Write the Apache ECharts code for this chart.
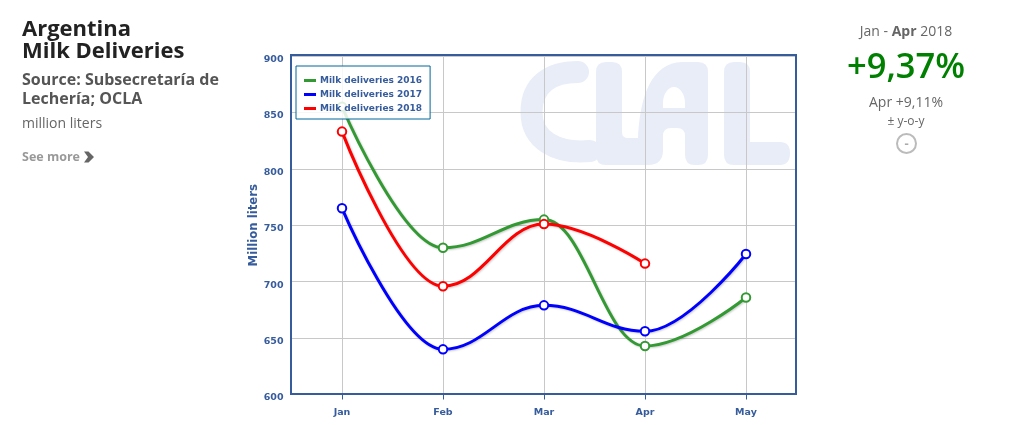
<!DOCTYPE html>
<html>
<head>
<meta charset="utf-8">
<style>
html,body{margin:0;padding:0;background:#fff;width:1029px;height:425px;overflow:hidden;font-family:"Open Sans",sans-serif}
#chart,#mark{position:absolute;left:0;top:0;width:1029px;height:425px}
.t{position:absolute;white-space:nowrap}
.c{text-align:center;width:200px;left:806px}
</style>
<script src="https://cdn.jsdelivr.net/npm/echarts@6/dist/echarts.min.js"></script>
</head>
<body>
<!-- Wordmark sitting behind the transparent chart canvas -->
<svg id="mark" viewBox="0 0 1029 425">
  <path fill="#e8edf8" fill-rule="evenodd" d="M596 72 Q596 62 606 62 L612 62 Q622 62 622 72 L622 132 Q622 138 628 138 L638 138 C640 95 652 63 682 62 L698 62 Q708 62 708 72 L708 155 Q708 165 698 165 L695 165 Q685 165 685 155 L685 136 Q685 128 677 128 L671 128 Q663 128 663 136 L663 150 Q663 165 648 165 L606 165 Q596 165 596 155 Z M663 108 L685 108 L685 103 C685 94 680 87 674 87 C668 87 663 94 663 103 Z M724 72 Q724 62 734 62 L740 62 Q750 62 750 72 L750 142 L780 142 Q790 142 790 153 Q790 165 780 165 L734 165 Q724 165 724 155 Z"/>
  <path fill="none" stroke="#e8edf8" stroke-width="22" stroke-linecap="round" d="M578 72 C550 72 531.5 85 531.5 112 C531.5 140 556 154 590 151"/>
</svg>
<div id="chart"></div>
<div class="t" style="left:22px;top:16px;font-size:22px;line-height:22px;font-weight:700;color:#222">Argentina<br>Milk Deliveries</div>
<div class="t" style="left:22px;top:70px;font-size:16px;line-height:19px;font-weight:700;color:#555">Source: Subsecretaría de<br>Lechería; OCLA</div>
<div class="t" style="left:22px;top:113px;font-size:14px;line-height:19px;color:#666">million liters</div>
<div class="t" style="left:22px;top:148px;font-size:12.5px;line-height:18px;font-weight:700;color:#999">See more
  <svg width="10" height="12" viewBox="0 0 10 12" style="position:absolute;left:62px;top:3px"><path d="M0 0.5 L4.5 0.5 L10 6 L4.5 11.5 L0 11.5 L4 6 Z" fill="#666"/></svg></div>
<div class="t c" style="top:21px;font-size:14px;line-height:20px;color:#666">Jan - <b>Apr</b> 2018</div>
<div class="t c" style="top:42px;font-size:34.5px;line-height:45px;font-weight:600;color:#008000">+9,37%</div>
<div class="t c" style="top:92px;font-size:14px;line-height:20px;color:#666">Apr +9,11%</div>
<div class="t c" style="top:112px;font-size:12px;line-height:18px;color:#666">± y-o-y</div>
<div class="t" style="left:896px;top:133px;width:21px;height:21px;box-sizing:border-box;border:2px solid #bbb;border-radius:50%;text-align:center;font-size:13px;line-height:16px;font-weight:700;color:#aaa">-</div>
<script>
// Monthly milk deliveries in Argentina, million liters
const months = ['Jan', 'Feb', 'Mar', 'Apr', 'May'];
const deliveries2016 = [855, 730, 755, 643, 686];
const deliveries2017 = [765, 640, 679, 656, 724.5];
const deliveries2018 = [833, 696, 751, 716, null];

const axisBlue = '#365c9c';
const labelFont = {fontFamily: '"DejaVu Sans", sans-serif', fontWeight: 'bold', color: axisBlue};

const green = '#339933', blue = '#0000ff', red = '#ff0000';

function lineSeries(name, color, data, z) {
  return {
    name, type: 'line', data, z,
    smooth: 0.4, smoothMonotone: 'x',
    symbol: 'circle', symbolSize: 8.5, showSymbol: true,
    connectNulls: false,
    lineStyle: {color, width: 3, shadowColor: 'rgba(0,0,0,0.2)', shadowBlur: 2, shadowOffsetX: 1, shadowOffsetY: 1},
    itemStyle: {color: '#fff', borderColor: color, borderWidth: 2},
    emphasis: {disabled: true}
  };
}

function legendEntry(name, color) {
  return {name, itemStyle: {color, borderWidth: 0}};
}

const chart = echarts.init(document.getElementById('chart'), null, {renderer: 'canvas'});
chart.setOption({
  animation: false,
  backgroundColor: 'transparent',
  // Frame of the plot area, kept above the grid lines
  graphic: [{
    type: 'rect', z: 1, silent: true,
    shape: {x: 291, y: 55, width: 505, height: 339},
    style: {fill: 'none', stroke: axisBlue, lineWidth: 2}
  }],
  grid: {left: 291.5, top: 56, width: 505, height: 338.5},
  legend: {
    orient: 'vertical', left: 296, top: 66, padding: [9, 8, 5, 8], itemGap: 3,
    itemWidth: 12, itemHeight: 3, icon: 'rect',
    backgroundColor: 'rgba(255,255,255,0.85)', borderColor: '#006699', borderWidth: 1,
    textStyle: {...labelFont, fontSize: 9, lineHeight: 11, padding: [0, 0, 0, -1]},
    selectedMode: false,
    data: [
      legendEntry('Milk deliveries 2016', green),
      legendEntry('Milk deliveries 2017', blue),
      legendEntry('Milk deliveries 2018', red)
    ]
  },
  xAxis: {
    type: 'category', data: months, boundaryGap: true,
    axisLine: {show: false},
    axisTick: {show: true, alignWithLabel: true, length: 5, lineStyle: {color: axisBlue}},
    axisLabel: {...labelFont, fontSize: 9.5, margin: 13},
    splitLine: {show: true, alignWithLabel: true, lineStyle: {color: '#c8c8c8', width: 1}}
  },
  yAxis: {
    type: 'value', min: 600, max: 900, interval: 50,
    name: 'Million liters', nameLocation: 'middle', nameGap: 32, nameRotate: 90,
    nameTextStyle: {...labelFont, fontSize: 11.7},
    axisLine: {show: false}, axisTick: {show: false},
    axisLabel: {...labelFont, fontSize: 9.5, margin: 8, verticalAlign: 'top', lineHeight: 7},
    splitLine: {show: true, lineStyle: {color: '#c8c8c8', width: 1}}
  },
  series: [
    lineSeries('Milk deliveries 2016', green, deliveries2016, 2),
    lineSeries('Milk deliveries 2017', blue, deliveries2017, 3),
    lineSeries('Milk deliveries 2018', red, deliveries2018, 4)
  ]
});
</script>
</body>
</html>
